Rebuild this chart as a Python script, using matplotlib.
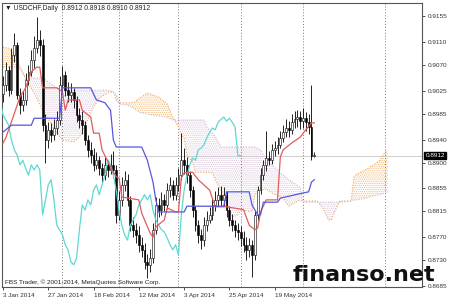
import numpy as np
import matplotlib
matplotlib.use("Agg")
import matplotlib.pyplot as plt

# USDCHF daily bars, 3 Jan 2014 .. early Jun 2014 (bar index 0..110)
opens = [
    .9020, .9035, .9061, .9026, .9087, .9105, .9018, .9000, .9009, .9044,
    .9058, .9078, .9099, .9113, .9105, .8965, .8939, .8957, .8948, .8960,
    .8974, .9035, .9052, .9026, .9018, .9023, .9009, .8983, .8974, .8965,
    .8939, .8922, .8913, .8896, .8904, .8890, .8878, .8896, .8887, .8896,
    .8887, .8809, .8835, .8861, .8870, .8835, .8791, .8783, .8774, .8757,
    .8748, .8727, .8722, .8734, .8783, .8826, .8817, .8835, .8826, .8852,
    .8861, .8844, .8861, .8878, .8905, .8895, .8878, .8852, .8817, .8791,
    .8774, .8765, .8791, .8800, .8809, .8826, .8835, .8844, .8835, .8844,
    .8817, .8800, .8791, .8783, .8779, .8769, .8757, .8748, .8757, .8739,
    .8809, .8852, .8878, .8896, .8908, .8904, .8922, .8925, .8931, .8943,
    .8953, .8960, .8957, .8970, .8975, .8979, .8972, .8977, .8970, .8962,
    .8912,
]
highs = [
    .9050, .9075, .9068, .9100, .9125, .9110, .9030, .9025, .9055, .9070,
    .9095, .9120, .9153, .9130, .9115, .8985, .8970, .8968, .8975, .8990,
    .9050, .9068, .9060, .9040, .9038, .9030, .9015, .8995, .8990, .8972,
    .8948, .8935, .8925, .8918, .8912, .8900, .8910, .8905, .8915, .8920,
    .8895, .8850, .8875, .8885, .8880, .8842, .8805, .8795, .8790, .8770,
    .8760, .8740, .8750, .8795, .8840, .8838, .8848, .8845, .8865, .8875,
    .8870, .8875, .8890, .8951, .8925, .8910, .8885, .8860, .8825, .8800,
    .8785, .8805, .8815, .8822, .8838, .8850, .8858, .8860, .8858, .8850,
    .8825, .8810, .8800, .8795, .8790, .8780, .8770, .8768, .8765, .8815,
    .8860, .8890, .8905, .8955, .8920, .8932, .8938, .8945, .8955, .8965,
    .8975, .8972, .8985, .8990, .8992, .8990, .8995, .8988, .8985, .9035,
    .8918,
]
lows = [
    .9005, .9025, .9015, .9020, .9075, .9010, .8985, .8990, .9000, .9035,
    .9050, .9065, .9090, .9085, .8955, .8900, .8925, .8935, .8940, .8950,
    .8965, .9020, .9015, .9005, .9005, .8995, .8970, .8960, .8950, .8930,
    .8910, .8900, .8885, .8888, .8878, .8865, .8870, .8875, .8880, .8875,
    .8795, .8800, .8825, .8850, .8825, .8780, .8770, .8760, .8745, .8735,
    .8715, .8699, .8710, .8725, .8775, .8805, .8808, .8815, .8820, .8840,
    .8835, .8835, .8850, .8870, .8880, .8865, .8840, .8805, .8780, .8760,
    .8750, .8755, .8780, .8795, .8800, .8815, .8825, .8825, .8825, .8805,
    .8790, .8780, .8770, .8765, .8755, .8745, .8730, .8735, .8701, .8730,
    .8800, .8845, .8870, .8885, .8895, .8898, .8912, .8915, .8925, .8935,
    .8945, .8945, .8950, .8960, .8962, .8958, .8960, .8955, .8950, .8905,
    .8910,
]
closes = [
    .9035, .9061, .9026, .9087, .9105, .9018, .9000, .9009, .9044, .9058,
    .9078, .9099, .9113, .9105, .8965, .8939, .8957, .8948, .8960, .8974,
    .9035, .9052, .9026, .9018, .9023, .9009, .8983, .8974, .8965, .8939,
    .8922, .8913, .8896, .8904, .8890, .8878, .8896, .8887, .8896, .8887,
    .8809, .8835, .8861, .8870, .8835, .8791, .8783, .8774, .8757, .8748,
    .8727, .8722, .8734, .8783, .8826, .8817, .8835, .8826, .8852, .8861,
    .8844, .8861, .8878, .8905, .8895, .8878, .8852, .8817, .8791, .8774,
    .8765, .8791, .8800, .8809, .8826, .8835, .8844, .8835, .8844, .8817,
    .8800, .8791, .8783, .8779, .8769, .8757, .8748, .8757, .8739, .8809,
    .8852, .8878, .8896, .8908, .8904, .8922, .8925, .8931, .8943, .8953,
    .8960, .8957, .8970, .8975, .8979, .8972, .8977, .8970, .8962, .8912,
    .8912,
]

# Ichimoku lines (bar index, price)
tenkan_idx = [0, 1, 3, 6, 8, 10, 12, 13, 14, 19, 21, 22, 23, 27, 28, 31, 32, 34,
              35, 38, 40, 41, 42, 48, 49, 52, 53, 54, 57, 58, 61, 62, 63, 64,
              67, 69, 73, 75, 79, 85, 87, 89, 90, 91, 93, 97, 98, 99, 102, 105,
              107, 109, 110]
tenkan_val = [.8934, .8943, .8971, .9014, .9030, .9058, .9066, .9066, .9030, .9030,
              .9023, .8991, .9009, .9009, .8991, .8979, .8951, .8951, .8922, .8892,
              .8875, .8873, .8840, .8835, .8812, .8777, .8770, .8788, .8800, .8821,
              .8814, .8814, .8873, .8882, .8883, .8870, .8852, .8823, .8823, .8818,
              .8791, .8783, .8786, .8814, .8835, .8835, .8910, .8922, .8934, .8944,
              .8957, .8969, .8969]
kijun_idx = [0, 3, 10, 11, 20, 21, 31, 33, 36, 38, 39, 40, 49, 51, 53, 54, 55, 64,
             65, 78, 79, 87, 88, 90, 91, 92, 97, 98, 106, 108, 109, 110]
kijun_val = [.8953, .8965, .8965, .8977, .8977, .9030, .9030, .9009, .9004, .8991,
             .8939, .8927, .8927, .8904, .8866, .8835, .8814, .8814, .8824, .8824,
             .8849, .8849, .8826, .8809, .8809, .8831, .8831, .8838, .8847, .8849,
             .8866, .8870]
span_idx = [-1, 2, 5, 6, 8, 11, 14, 17, 19, 21, 25, 27, 29, 32, 34, 37, 39, 40, 41,
            44, 46, 48, 51, 55, 58, 60, 62, 63, 64, 65, 67, 68, 71, 72, 74, 75, 76,
            77, 78, 79, 81, 83, 84, 88, 89, 91, 93, 95, 99, 101, 105, 106, 111, 113,
            115, 116, 117, 119, 123, 124, 125, 128, 131, 133, 135, 136]
span_a = [.9101, .9099, .9085, .9066, .9044, .9021, .8991, .8967, .8951, .8939,
          .8936, .8944, .8964, .8997, .9012, .9021, .9023, .9018, .9004, .9004,
          .9004, .9011, .9021, .9014, .9002, .8979, .8962, .8948, .8943, .8913,
          .8901, .8883, .8883, .8883, .8882, .8870, .8861, .8852, .8840, .8818,
          .8805, .8809, .8818, .8814, .8844, .8852, .8854, .8847, .8838, .8824,
          .8835, .8833, .8833, .8821, .8800, .8800, .8812, .8833, .8833, .8875,
          .8880, .8887, .8896, .8903, .8918, .8920]
span_b = [.9066, .9066, .9066, .9064, .9049, .9047, .9047, .9037, .9030, .9026,
          .9026, .9026, .9026, .9026, .9026, .9026, .9023, .9009, .9002, .9000,
          .8995, .8988, .8984, .8981, .8979, .8974, .8974, .8974, .8974, .8974,
          .8974, .8974, .8974, .8962, .8951, .8946, .8936, .8927, .8927, .8927,
          .8927, .8927, .8927, .8927, .8927, .8922, .8904, .8896, .8878, .8870,
          .8857, .8831, .8831, .8831, .8831, .8831, .8831, .8831, .8833, .8835,
          .8835, .8838, .8842, .8844, .8847, .8847]

date_ticks = [0, 16, 32, 48, 64, 80, 96]
date_labels = ["3 Jan 2014", "27 Jan 2014", "18 Feb 2014", "12 Mar 2014",
               "3 Apr 2014", "25 Apr 2014", "19 May 2014"]
price_ticks = [0.9155, 0.9110, 0.9070, 0.9025, 0.8985, 0.8940,
               0.8900, 0.8855, 0.8815, 0.8770, 0.8730, 0.8685]
separators = [21, 41, 62, 84, 106, 135]
last_price = 0.8912

MT_FONT = ["Liberation Sans", "DejaVu Sans"]


def main():
    plt.rcParams["hatch.linewidth"] = 0.6
    fig = plt.figure(figsize=(4.5, 3.02), dpi=100)
    ax = fig.add_axes([2 / 450, 15 / 302, 420 / 450, 284 / 302])
    ax.set_xlim(-0.35, 148.05)
    ax.set_ylim(0.86834, 0.91776)

    # cloud
    x = np.array(span_idx)
    a = np.array(span_a)
    b = np.array(span_b)
    ax.fill_between(x, a, b, where=a >= b, interpolate=True, facecolor="none",
                    edgecolor="#f3bd7c", hatch="........", linewidth=0, zorder=1)
    ax.fill_between(x, a, b, where=a < b, interpolate=True, facecolor="none",
                    edgecolor="#dcc6dc", hatch="........", linewidth=0, zorder=1)
    ax.plot(x, a, color="#f2a65a", ls=(0, (1, 1.5)), lw=0.8, zorder=2)
    ax.plot(x, b, color="#d2b0d2", ls=(0, (1, 1.5)), lw=0.8, zorder=2)

    for s in separators:
        ax.axvline(s, color="#777777", ls=(0, (1, 2)), lw=0.7, zorder=1)
    ax.axhline(last_price, color="#c8c8c8", lw=0.6, zorder=1)

    # candles
    idx = np.arange(len(closes))
    o = np.array(opens)
    c = np.array(closes)
    ax.vlines(idx, lows, highs, color="black", lw=0.6, zorder=3)
    bull = c >= o
    body_lo = np.minimum(o, c)
    body_h = np.maximum(np.abs(c - o), 0.00008)
    ax.bar(idx[bull], body_h[bull], bottom=body_lo[bull], width=0.65,
           color="white", edgecolor="black", linewidth=0.4, zorder=3)
    ax.bar(idx[~bull], body_h[~bull], bottom=body_lo[~bull], width=0.65,
           color="black", edgecolor="black", linewidth=0.4, zorder=3)

    # chikou, tenkan, kijun
    ax.plot(idx - 26, closes, color="#5ed8d2", lw=0.9, zorder=4)
    ax.plot(tenkan_idx, tenkan_val, color="#e35b5b", lw=0.9, zorder=4)
    ax.plot(kijun_idx, kijun_val, color="#5656e0", lw=0.9, zorder=4)

    # axes look like the terminal
    for sp in ax.spines.values():
        sp.set_color("#555555")
        sp.set_linewidth(0.8)
    ax.yaxis.tick_right()
    ax.set_yticks(price_ticks)
    ax.set_yticklabels([f"{p:.4f}" for p in price_ticks], family=MT_FONT)
    ax.set_xticks(date_ticks)
    ax.set_xticklabels(date_labels, family=MT_FONT)
    for lab in ax.get_xticklabels():
        lab.set_ha("left")
    ax.tick_params(axis="both", labelsize=4.6, length=2.5, width=0.6,
                   colors="#333333", pad=1.5)

    ax.text(0.008, 0.992, "\u25bc USDCHF,Daily  0.8912 0.8918 0.8910 0.8912",
            transform=ax.transAxes, va="top", ha="left", fontsize=4.9,
            color="#222222", family=MT_FONT)
    ax.text(0.008, 0.008, "FBS Trader, \u00a9 2001-2014, MetaQuotes Software Corp.",
            transform=ax.transAxes, va="bottom", ha="left", fontsize=4.6,
            color="#222222", family=MT_FONT)

    ax.annotate(f"{last_price:.4f}", xy=(1, last_price),
                xycoords=("axes fraction", "data"), xytext=(2.5, 0),
                textcoords="offset points", va="center", ha="left",
                fontsize=4.6, color="white", family=MT_FONT,
                bbox=dict(boxstyle="square,pad=0.2", fc="black", ec="black"))

    fig.text(293 / 450, 1 - 281 / 302, "finanso.net", fontsize=16,
             fontweight="bold", family="DejaVu Sans", color="#111111",
             va="baseline", ha="left")

    fig.savefig("out.png", dpi=100, facecolor="white")


if __name__ == "__main__":
    main()
